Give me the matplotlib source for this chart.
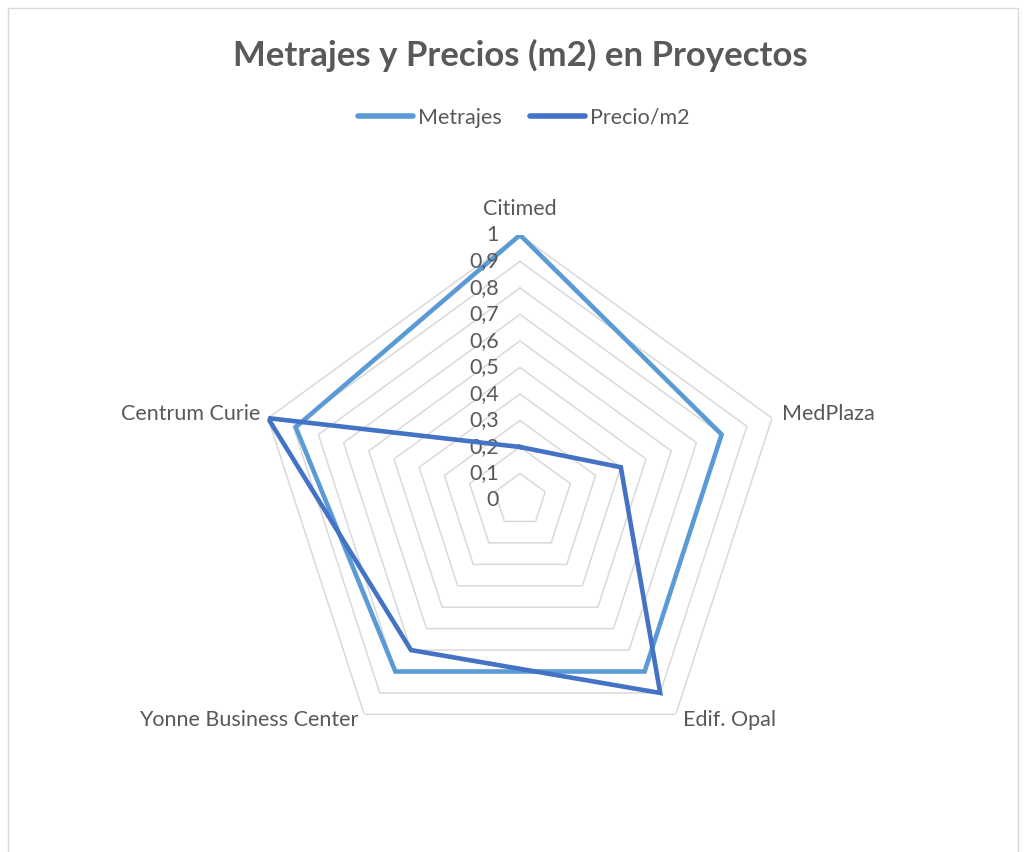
import numpy as np
import matplotlib
matplotlib.use("Agg")
import matplotlib.pyplot as plt
import matplotlib.transforms as mtransforms
from matplotlib.patches import Rectangle

# === DATA ===
categories = ["Citimed", "MedPlaza", "Edif. Opal", "Yonne Business Center", "Centrum Curie"]
metrajes = [1.0, 0.8, 0.8, 0.8, 0.89]
precio_m2 = [0.2, 0.4, 0.9, 0.7, 1.0]
levels = [0.1, 0.2, 0.3, 0.4, 0.5, 0.6, 0.7, 0.8, 0.9, 1.0]
tick_labels = ["0", "0,1", "0,2", "0,3", "0,4", "0,5", "0,6", "0,7", "0,8", "0,9", "1"]

# === STYLE ===
plt.rcParams['font.family'] = ['Lato', 'DejaVu Sans']
text_col = "#595959"
grid_col = "#D9D9D9"
c_metr = "#5B9BD5"
c_prec = "#4472C4"
fs = 15.5

fig = plt.figure(figsize=(10.25, 8.52), dpi=100)
fig.patches.append(Rectangle((8 / 1025, -0.01), 1010 / 1025, 1.01 - 8 / 852,
                             transform=fig.transFigure, fill=False,
                             edgecolor=grid_col, lw=1))

# center ~ (520, 500) px, radius ~ 265 px
ax = fig.add_axes([255 / 1025, 87 / 852, 530 / 1025, 530 / 852], projection="polar")
ax.set_theta_zero_location("N")
ax.set_theta_direction(-1)
ax.set_ylim(0, 1)
ax.grid(False)
ax.spines["polar"].set_visible(False)
ax.set_xticks([])
ax.set_yticks([])
ax.patch.set_alpha(0)

n = len(categories)
theta = np.linspace(0, 2 * np.pi, n, endpoint=False)
theta_c = np.append(theta, theta[0])

# pentagon gridlines
for lv in levels:
    ax.plot(theta_c, [lv] * (n + 1), color=grid_col, lw=1.1, zorder=1)

ax.plot(theta_c, metrajes + metrajes[:1], color=c_metr, lw=3.3,
        solid_joinstyle="miter", label="Metrajes", zorder=3)
ax.plot(theta_c, precio_m2 + precio_m2[:1], color=c_prec, lw=3.3,
        solid_joinstyle="miter", label="Precio/m2", zorder=4)

# radial tick labels
tr = mtransforms.offset_copy(ax.transData, fig=fig, x=-21, y=0, units="dots")
for v, lab in zip([0] + levels, tick_labels):
    ax.text(0, v, lab, transform=tr, ha="right", va="center",
            fontsize=fs, color=text_col)

# category labels
offsets = [(0, 26, "center"), (10, 4, "left"), (7, -6, "left"),
           (-6, -6, "right"), (-8, 4, "right")]
for th, lab, (dx, dy, ha) in zip(theta, categories, offsets):
    t = mtransforms.offset_copy(ax.transData, fig=fig, x=dx, y=dy, units="dots")
    ax.text(th, 1.0, lab, transform=t, ha=ha, va="center",
            fontsize=fs, color=text_col)

fig.text(520 / 1025, 1 - 55 / 852, "Metrajes y Precios (m2) en Proyectos",
         ha="center", va="center", fontsize=25, fontweight="bold", color=text_col)

leg = fig.legend(loc="center", bbox_to_anchor=(524 / 1025, 1 - 118 / 852), ncol=2,
                 frameon=False, fontsize=fs, labelcolor=text_col,
                 handlelength=2.55, handletextpad=0.25, columnspacing=1.3)
for h in leg.get_lines():
    h.set_linewidth(4)
    h.set_solid_capstyle("round")

fig.savefig("out.png", dpi=100)
